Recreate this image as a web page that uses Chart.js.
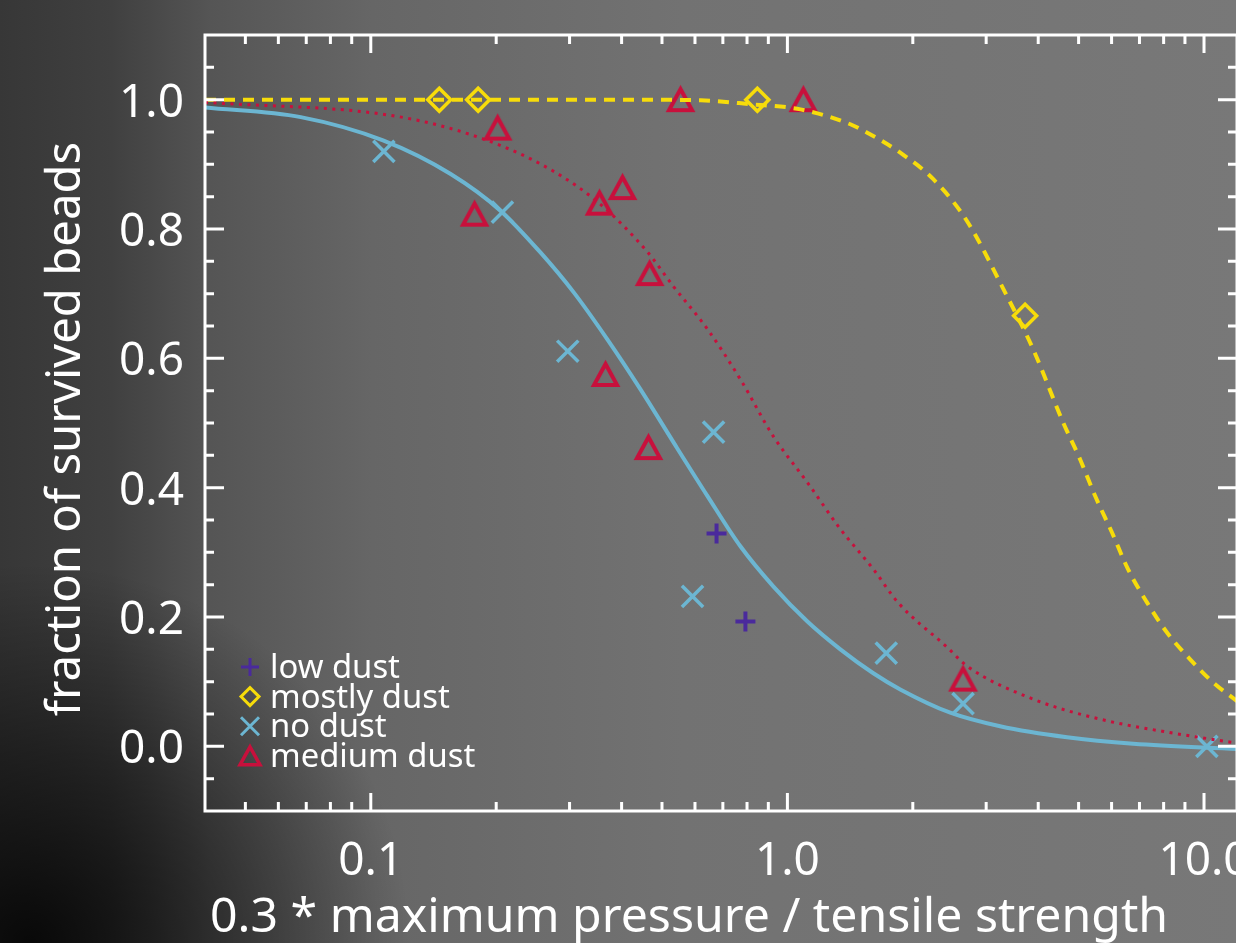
<!DOCTYPE html>
<html>
<head>
<meta charset="utf-8">
<script src="https://cdn.jsdelivr.net/npm/chart.js@4.4.0/dist/chart.umd.min.js"></script>
<style>
    html, body { margin: 0; padding: 0; overflow: hidden; background: #555; }
    #wrap { width: 1240px; height: 943px; }
</style>
</head>
<body>
<div id="wrap"><canvas id="beadsChart" width="1240" height="943"></canvas></div>
<script>
// Axis ranges and tick labels
const xRange = [0.04, 12];
const yRange = [-0.1, 1.1];
const xTickValues = [0.1, 1, 10];
const xTickLabels = ['0.1', '1.0', '10.0'];
const yTickValues = [0, 0.2, 0.4, 0.6, 0.8, 1.0];
const yTickLabels = ['0.0', '0.2', '0.4', '0.6', '0.8', '1.0'];

// Measured points
const lowDustX = [0.676, 0.793];
const lowDustY = [0.329, 0.193];
const mostlyDustX = [0.146, 0.181, 0.847, 3.72];
const mostlyDustY = [1.0, 1.0, 1.0, 0.666];
const noDustX = [0.1075, 0.207, 0.297, 0.665, 0.592, 1.727, 2.64, 10.16];
const noDustY = [0.920, 0.826, 0.611, 0.486, 0.232, 0.144, 0.066, 0.0];
const mediumDustX = [0.554, 1.092, 0.2016, 0.1775, 0.354, 0.402, 0.467, 0.366, 0.464, 2.64];
const mediumDustY = [1.0, 1.0, 0.956, 0.823, 0.840, 0.864, 0.731, 0.575, 0.462, 0.104];

// Fitted curves
const noDustFitX = [0.04, 0.0679, 0.107, 0.1555, 0.205, 0.256, 0.307, 0.370, 0.444, 0.533, 0.643, 0.772, 0.926, 1.117, 1.340, 1.608, 1.866, 2.46, 3.24, 4.69, 6.76, 12];
const noDustFitY = [0.988, 0.973, 0.937, 0.885, 0.828, 0.763, 0.702, 0.629, 0.552, 0.470, 0.387, 0.309, 0.247, 0.193, 0.150, 0.113, 0.088, 0.052, 0.031, 0.014, 0.004, -0.004];
const mediumFitX = [0.04, 0.116, 0.1866, 0.270, 0.356, 0.462, 0.533, 0.643, 0.772, 0.926, 1.117, 1.340, 1.608, 1.845, 2.42, 2.70, 3.89, 5.63, 8.15, 12];
const mediumFitY = [0.996, 0.974, 0.939, 0.892, 0.838, 0.764, 0.711, 0.645, 0.567, 0.479, 0.408, 0.336, 0.274, 0.222, 0.153, 0.124, 0.073, 0.042, 0.022, 0.005];
const mostlyFitX = [0.04, 0.1, 0.2, 0.4, 0.62, 0.815, 1.075, 1.416, 1.555, 1.866, 2.24, 2.70, 3.33, 3.89, 4.59, 5.04, 5.48, 6.01, 6.57, 7.29, 8.15, 9.25, 10.51, 12];
const mostlyFitY = [1.0, 1.0, 1.0, 1.0, 0.999, 0.993, 0.985, 0.962, 0.949, 0.918, 0.877, 0.812, 0.702, 0.614, 0.501, 0.444, 0.387, 0.331, 0.274, 0.223, 0.176, 0.135, 0.099, 0.070];

const xTitle = '0.3 * maximum pressure / tensile strength';
const yTitle = 'fraction of survived beads';
const FONT = '"Noto Sans", "DejaVu Sans", sans-serif';

const COLORS = {
    low: '#4a2a9c',
    mostly: '#f7dc0a',
    none: '#6cb6d2',
    medium: '#c8103c',
    axis: '#ffffff'
};

const toPoints = (xs, ys) => xs.map((x, i) => ({ x: x, y: ys[i] }));

// triangle marker centred on its bounding box
function triangleMarker(w, h, lw, color) {
    const s = Math.ceil(Math.max(w, h) + lw * 2 + 2);
    const c = document.createElement('canvas');
    c.width = s; c.height = s;
    const g = c.getContext('2d');
    g.strokeStyle = color;
    g.lineWidth = lw;
    g.lineJoin = 'miter';
    g.beginPath();
    g.moveTo(s / 2, s / 2 - h / 2);
    g.lineTo(s / 2 + w / 2, s / 2 + h / 2);
    g.lineTo(s / 2 - w / 2, s / 2 + h / 2);
    g.closePath();
    g.stroke();
    return c;
}

const triMarker = triangleMarker(23, 21, 4, COLORS.medium);

// Background, roughly like the grey photo behind the plot
const backgroundPlugin = {
    id: 'photoBackground',
    beforeDraw(chart) {
        const { ctx, width, height } = chart;
        ctx.save();
        const lin = ctx.createLinearGradient(0, 0, width, 0);
        lin.addColorStop(0, '#373737');
        lin.addColorStop(0.09, '#404040');
        lin.addColorStop(0.17, '#555555');
        lin.addColorStop(0.3, '#666666');
        lin.addColorStop(0.55, '#727272');
        lin.addColorStop(1, '#787878');
        ctx.fillStyle = lin;
        ctx.fillRect(0, 0, width, height);
        const rad = ctx.createRadialGradient(30, height, 0, 30, height, 380);
        rad.addColorStop(0, 'rgba(0,0,0,0.85)');
        rad.addColorStop(0.5, 'rgba(0,0,0,0.45)');
        rad.addColorStop(1, 'rgba(0,0,0,0)');
        ctx.fillStyle = rad;
        ctx.fillRect(0, 0, width, height);
        ctx.restore();
    }
};

function fitFontSize(ctx, text, targetWidth) {
    ctx.font = '100px ' + FONT;
    return 100 * targetWidth / ctx.measureText(text).width;
}

// Box, inward ticks, labels, titles and legend
const framePlugin = {
    id: 'idlFrame',
    afterDatasetsDraw(chart) {
        const { ctx, chartArea: a, scales } = chart;
        const xs = scales.x, ys = scales.y;
        ctx.save();
        ctx.strokeStyle = COLORS.axis;
        ctx.fillStyle = COLORS.axis;
        ctx.lineWidth = 3;
        ctx.lineCap = 'butt';

        // box
        ctx.strokeRect(a.left, a.top, a.right - a.left, a.bottom - a.top);

        // x ticks (log: 1..9 in each decade)
        ctx.beginPath();
        for (let d = -2; d <= 1; d++) {
            for (let m = 1; m <= 9; m++) {
                const v = m * Math.pow(10, d);
                if (v <= xRange[0] || v >= xRange[1]) continue;
                const px = xs.getPixelForValue(v);
                const len = m === 1 ? 18 : 9;
                ctx.moveTo(px, a.bottom); ctx.lineTo(px, a.bottom - len);
                ctx.moveTo(px, a.top); ctx.lineTo(px, a.top + len);
            }
        }
        // y ticks every 0.05, long ones on labelled values
        for (let k = -1; k <= 21; k++) {
            const v = k * 0.05;
            if (v <= yRange[0] || v >= yRange[1]) continue;
            const py = ys.getPixelForValue(v);
            const major = k % 4 === 0;
            const len = major ? 19 : 9;
            ctx.moveTo(a.left, py); ctx.lineTo(a.left + len, py);
            ctx.moveTo(a.right, py); ctx.lineTo(a.right - len, py);
        }
        ctx.stroke();

        // tick labels
        ctx.font = '46px ' + FONT;
        ctx.textBaseline = 'alphabetic';
        ctx.textAlign = 'right';
        yTickValues.forEach((v, i) => {
            ctx.fillText(yTickLabels[i], 184, ys.getPixelForValue(v) + 17);
        });
        ctx.textAlign = 'center';
        xTickValues.forEach((v, i) => {
            ctx.fillText(xTickLabels[i], xs.getPixelForValue(v), 875);
        });

        // axis titles
        ctx.font = fitFontSize(ctx, xTitle, 958).toFixed(1) + 'px ' + FONT;
        ctx.textAlign = 'left';
        ctx.fillText(xTitle, 210, 932);

        ctx.font = fitFontSize(ctx, yTitle, 574).toFixed(1) + 'px ' + FONT;
        ctx.save();
        ctx.translate(80, 429);
        ctx.rotate(-Math.PI / 2);
        ctx.textAlign = 'center';
        ctx.fillText(yTitle, 0, 0);
        ctx.restore();

        // legend
        const entries = [
            { label: 'low dust', style: 'cross', color: COLORS.low },
            { label: 'mostly dust', style: 'diamond', color: COLORS.mostly },
            { label: 'no dust', style: 'x', color: COLORS.none },
            { label: 'medium dust', style: 'triangle', color: COLORS.medium }
        ];
        const legFont = fitFontSize(ctx, 'medium dust', 205);
        ctx.font = legFont.toFixed(1) + 'px ' + FONT;
        ctx.textAlign = 'left';
        entries.forEach((e, i) => {
            const base = 678 + i * 29.6;
            const cy = base - 11;
            const cx = 250;
            ctx.fillStyle = COLORS.axis;
            ctx.fillText(e.label, 270, base);
            ctx.strokeStyle = e.color;
            ctx.lineWidth = 3;
            ctx.beginPath();
            if (e.style === 'cross') {
                ctx.moveTo(cx - 9, cy); ctx.lineTo(cx + 9, cy);
                ctx.moveTo(cx, cy - 9); ctx.lineTo(cx, cy + 9);
            } else if (e.style === 'diamond') {
                ctx.moveTo(cx - 9, cy); ctx.lineTo(cx, cy - 9);
                ctx.lineTo(cx + 9, cy); ctx.lineTo(cx, cy + 9);
                ctx.closePath();
            } else if (e.style === 'x') {
                ctx.moveTo(cx - 9, cy - 9); ctx.lineTo(cx + 9, cy + 9);
                ctx.moveTo(cx + 9, cy - 9); ctx.lineTo(cx - 9, cy + 9);
            } else {
                ctx.lineWidth = 3.5;
                ctx.moveTo(cx, cy - 9); ctx.lineTo(cx + 10, cy + 9);
                ctx.lineTo(cx - 10, cy + 9); ctx.closePath();
            }
            ctx.stroke();
        });
        ctx.restore();
    }
};

const lineStyle = {
    type: 'line',
    pointRadius: 0,
    pointHoverRadius: 0,
    fill: false,
    tension: 0.4,
    cubicInterpolationMode: 'monotone'
};

const scatterStyle = {
    type: 'scatter',
    showLine: false,
    pointBackgroundColor: 'rgba(0,0,0,0)'
};

new Chart(document.getElementById('beadsChart'), {
    data: {
        datasets: [
            Object.assign({}, lineStyle, {
                label: 'no dust fit',
                data: toPoints(noDustFitX, noDustFitY),
                borderColor: COLORS.none,
                borderWidth: 4
            }),
            Object.assign({}, lineStyle, {
                label: 'medium dust fit',
                data: toPoints(mediumFitX, mediumFitY),
                borderColor: COLORS.medium,
                borderWidth: 3,
                borderDash: [3, 5.5]
            }),
            Object.assign({}, lineStyle, {
                label: 'mostly dust fit',
                data: toPoints(mostlyFitX, mostlyFitY),
                borderColor: COLORS.mostly,
                borderWidth: 4,
                borderDash: [11, 8]
            }),
            Object.assign({}, scatterStyle, {
                label: 'low dust',
                data: toPoints(lowDustX, lowDustY),
                pointStyle: 'cross',
                pointRadius: 10,
                pointBorderWidth: 4,
                pointBorderColor: COLORS.low
            }),
            Object.assign({}, scatterStyle, {
                label: 'mostly dust',
                data: toPoints(mostlyDustX, mostlyDustY),
                pointStyle: 'rectRot',
                pointRadius: 11.5,
                pointBorderWidth: 3.5,
                pointBorderColor: COLORS.mostly
            }),
            Object.assign({}, scatterStyle, {
                label: 'no dust',
                data: toPoints(noDustX, noDustY),
                pointStyle: 'crossRot',
                pointRadius: 15,
                pointBorderWidth: 3.5,
                pointBorderColor: COLORS.none
            }),
            Object.assign({}, scatterStyle, {
                label: 'medium dust',
                data: toPoints(mediumDustX, mediumDustY),
                pointStyle: triMarker,
                pointRadius: 12,
                pointBorderColor: COLORS.medium
            })
        ]
    },
    options: {
        responsive: false,
        animation: false,
        events: [],
        layout: { autoPadding: false, padding: { left: 205, top: 35, right: 3, bottom: 132 } },
        plugins: {
            legend: { display: false },
            tooltip: { enabled: false }
        },
        scales: {
            x: { type: 'logarithmic', min: xRange[0], max: xRange[1], display: false },
            y: { type: 'linear', min: yRange[0], max: yRange[1], display: false }
        }
    },
    plugins: [backgroundPlugin, framePlugin]
});
</script>
</body>
</html>
